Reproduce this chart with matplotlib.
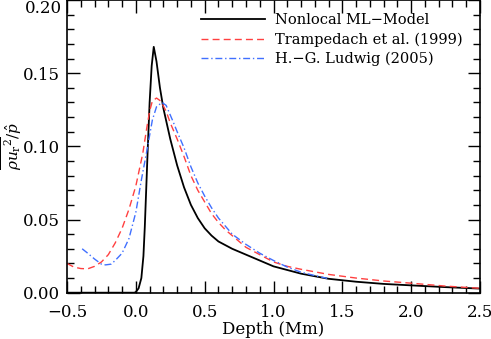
import matplotlib
matplotlib.use('Agg')
import matplotlib.pyplot as plt
from matplotlib.ticker import MultipleLocator

# Nonlocal ML-Model
ml_x = [-0.5, -0.01, 0.0, 0.02, 0.04, 0.055, 0.065, 0.075, 0.085, 0.10, 0.115, 0.13,
        0.15, 0.175, 0.2, 0.25, 0.3, 0.35, 0.4, 0.45, 0.5, 0.55, 0.6, 0.7, 0.8, 0.9,
        1.0, 1.2, 1.4, 1.6, 1.8, 2.0, 2.25, 2.5]
ml_y = [0.0, 0.0, 0.0005, 0.003, 0.010, 0.025, 0.045, 0.070, 0.095, 0.130, 0.155, 0.168,
        0.158, 0.140, 0.126, 0.105, 0.087, 0.072, 0.060, 0.051, 0.044, 0.039, 0.035,
        0.030, 0.026, 0.022, 0.018, 0.0130, 0.0095, 0.0075, 0.0060, 0.0050, 0.0038,
        0.0028]

# Trampedach et al. (1999)
tr_x = [-0.5, -0.45, -0.4, -0.35, -0.3, -0.25, -0.2, -0.15, -0.1, -0.05, 0.0, 0.05,
        0.08, 0.1, 0.12, 0.15, 0.18, 0.22, 0.25, 0.3, 0.35, 0.4, 0.45, 0.5, 0.55, 0.6,
        0.65, 0.7, 0.8, 0.9, 1.0, 1.1, 1.2, 1.4, 1.6, 1.8, 2.0, 2.25, 2.5]
tr_y = [0.020, 0.0175, 0.0165, 0.0163, 0.018, 0.021, 0.026, 0.034, 0.044, 0.057, 0.073,
        0.095, 0.113, 0.124, 0.131, 0.133, 0.131, 0.124, 0.116, 0.105, 0.093, 0.080,
        0.070, 0.062, 0.054, 0.048, 0.043, 0.039, 0.031, 0.026, 0.021, 0.018, 0.016,
        0.0125, 0.010, 0.008, 0.0065, 0.0045, 0.003]

# H.-G. Ludwig (2005)
lu_x = [-0.39, -0.35, -0.3, -0.25, -0.22, -0.18, -0.15, -0.1, -0.05, 0.0, 0.04, 0.08,
        0.12, 0.15, 0.19, 0.22, 0.27, 0.3, 0.35, 0.4, 0.45, 0.5, 0.55, 0.6, 0.7, 0.8,
        0.9, 1.0, 1.1, 1.2, 1.3, 1.39]
lu_y = [0.030, 0.027, 0.023, 0.0195, 0.019, 0.0195, 0.022, 0.027, 0.037, 0.055, 0.077,
        0.097, 0.118, 0.127, 0.130, 0.128, 0.117, 0.110, 0.099, 0.086, 0.075, 0.066,
        0.058, 0.051, 0.040, 0.033, 0.027, 0.022, 0.0175, 0.014, 0.0117, 0.0098]

plt.rcParams['font.family'] = ['DejaVu Serif']
plt.rcParams['mathtext.fontset'] = 'dejavuserif'

fig = plt.figure(figsize=(4.91, 3.39), dpi=100)
ax = fig.add_axes([0.1365, 0.1366, 0.8411, 0.8634])

ax.plot(ml_x, ml_y, color='black', lw=1.3, label='Nonlocal ML\u2212Model')
ax.plot(tr_x, tr_y, color='#ff4040', lw=1.0, ls=(0, (5, 3)), label='Trampedach et al. (1999)')
ax.plot(lu_x, lu_y, color='#4070ff', lw=1.0, ls=(0, (5, 2, 1, 2)), label='H.\u2212G. Ludwig (2005)')

ax.set_xlim(-0.5, 2.5)
ax.set_ylim(0.0, 0.20)
ax.xaxis.set_major_locator(MultipleLocator(0.5))
ax.xaxis.set_minor_locator(MultipleLocator(0.1))
ax.yaxis.set_major_locator(MultipleLocator(0.05))
ax.yaxis.set_minor_locator(MultipleLocator(0.01))
ax.xaxis.set_major_formatter(plt.FuncFormatter(lambda v, p: ('%.1f' % v).replace('-', '\u2212')))
# top label (0.20) is drawn separately so it is not cut at the figure edge
ax.yaxis.set_major_formatter(plt.FuncFormatter(lambda v, p: '' if v > 0.19 else '%.2f' % v))
ax.tick_params(which='both', direction='in', top=True, right=True, labelsize=12, width=1)
ax.tick_params(axis='x', which='major', pad=8)
ax.tick_params(axis='y', which='major', pad=5)
ax.tick_params(which='major', length=9)
ax.tick_params(which='minor', length=5)
for s in ax.spines.values():
    s.set_linewidth(1.2)
ax.text(-0.012, 1.0, '0.20', transform=ax.transAxes, ha='right', va='top', fontsize=12)

ax.set_xlabel('Depth (Mm)', fontsize=12, labelpad=0)
ax.set_ylabel(r'$\overline{\rho u_{\rm r}{}^2}/\hat{p}$', fontsize=11)
ax.yaxis.set_label_coords(-0.104, 0.5)

ax.legend(loc='upper right', frameon=False, fontsize=10.5, handlelength=4.4,
          handletextpad=0.7, labelspacing=0.35, borderaxespad=0.5,
          bbox_to_anchor=(0.99, 1.0))

fig.savefig('out.png', dpi=100)
